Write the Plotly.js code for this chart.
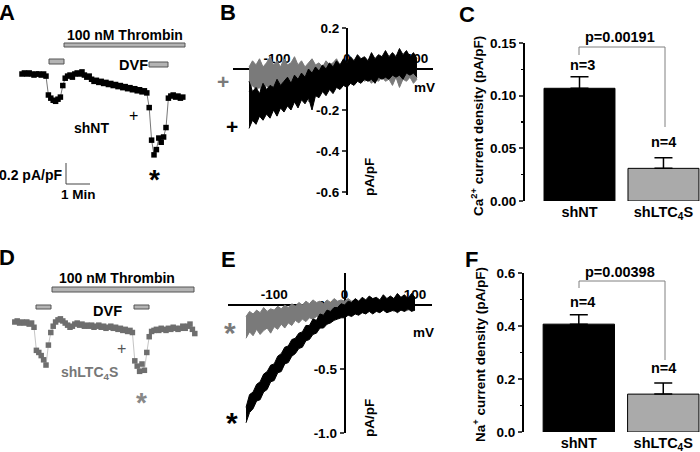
<!DOCTYPE html>
<html>
<head>
<meta charset="utf-8">
<script src="https://cdn.plot.ly/plotly-3.0.1.min.js"></script>
<style>html,body{margin:0;padding:0;background:#fff;}#chart{width:700px;height:452px;}</style>
</head>
<body>
<div id="chart"></div>
<script>
// ---------- DATA ----------
// Panel A: time course shNT (pA/pF relative to start), sampled every 0.1 min
const timeStepMin = 0.1;
const shNT_timecourse = [0,0.01,0,0.01,0,-0.01,0,0,-0.01,0,-0.02,
  -0.20,-0.23,-0.25,-0.26,-0.24,-0.22,-0.11,-0.04,-0.02,-0.01,-0.03,0,0.01,0,0.02,-0.01,-0.03,-0.02,
  -0.05,-0.07,-0.06,-0.08,-0.07,-0.09,-0.08,-0.10,-0.09,-0.11,-0.10,-0.12,-0.11,-0.13,-0.12,-0.14,
  -0.13,-0.15,-0.14,-0.16,-0.15,-0.17,-0.16,-0.18,-0.32,-0.63,-0.77,-0.72,-0.61,-0.65,-0.60,-0.51,
  -0.23,-0.21,-0.20,-0.22,-0.21,-0.23,-0.22];
// Panel D: time course shLTC4S
const shLTC4S_timecourse = [0,0.01,-0.01,0,-0.01,0,-0.02,-0.01,-0.05,
  -0.27,-0.29,-0.32,-0.36,-0.41,-0.22,-0.10,-0.04,0,0.02,0.03,0.01,-0.01,-0.03,-0.05,-0.04,-0.02,
  -0.01,-0.03,-0.02,-0.04,-0.03,-0.04,-0.03,-0.05,-0.04,-0.03,-0.05,-0.04,-0.06,-0.05,-0.04,-0.06,
  -0.05,-0.07,-0.06,-0.08,-0.07,-0.09,-0.08,-0.10,-0.37,-0.42,-0.47,-0.40,-0.46,-0.29,-0.14,-0.09,
  -0.08,-0.07,-0.08,-0.06,-0.07,-0.08,-0.06,-0.07,-0.05,-0.06,-0.07,-0.06,-0.04,-0.06,-0.04,-0.02,
  -0.07,-0.11];

// Panels B & E: I-V ramp envelopes (mV, pA/pF), every 5 mV
const rampVoltage = [-140,-135,-130,-125,-120,-115,-110,-105,-100,-95,-90,-85,-80,-75,-70,-65,-60,-55,-50,-45,-40,-35,-30,-25,-20,-15,-10,-5,0,5,10,15,20,25,30,35,40,45,50,55,60,65,70,75,80,85,90,95,100];
const B_shNT_upper = [-0.06,-0.11,-0.09,-0.12,-0.07,-0.10,-0.08,-0.09,-0.05,-0.08,-0.06,-0.04,-0.07,-0.03,-0.05,-0.02,-0.04,0.00,-0.02,0.01,-0.01,0.02,0.00,0.03,0.01,0.04,0.02,0.05,0.03,0.06,0.04,0.07,0.05,0.06,0.04,0.08,0.05,0.07,0.06,0.09,0.06,0.08,0.06,0.10,0.07,0.09,0.06,0.08,0.05];
const B_shNT_lower = [-0.29,-0.25,-0.27,-0.23,-0.25,-0.22,-0.24,-0.20,-0.23,-0.19,-0.21,-0.18,-0.20,-0.16,-0.19,-0.15,-0.17,-0.14,-0.20,-0.13,-0.14,-0.11,-0.13,-0.10,-0.12,-0.09,-0.10,-0.08,-0.09,-0.07,-0.08,-0.06,-0.07,-0.05,-0.06,-0.05,-0.07,-0.04,-0.05,-0.04,-0.05,-0.03,-0.04,-0.03,-0.05,-0.02,-0.03,-0.02,-0.04];
const B_shLTC4S_upper = [0.01,0.04,0.02,0.05,0.01,0.03,0.06,0.02,0.04,0.01,0.05,0.02,0.03,0.06,0.02,0.04,0.01,0.03,0.05,0.02,0.03,0.01,0.04,0.02,0.03,0.05,0.02,0.04,0.03,0.05,0.02,0.04,0.03,0.05,0.02,0.04,0.03,0.05,0.02,0.04,0.03,0.05,0.03,0.04,0.02,0.05,0.03,0.04,0.03];
const B_shLTC4S_lower = [-0.11,-0.08,-0.10,-0.09,-0.12,-0.08,-0.10,-0.09,-0.11,-0.08,-0.10,-0.09,-0.12,-0.08,-0.10,-0.14,-0.09,-0.16,-0.09,-0.11,-0.08,-0.10,-0.07,-0.09,-0.07,-0.08,-0.06,-0.07,-0.05,-0.07,-0.05,-0.06,-0.04,-0.06,-0.05,-0.07,-0.05,-0.06,-0.04,-0.06,-0.05,-0.08,-0.04,-0.09,-0.05,-0.06,-0.04,-0.07,-0.05];
const E_shNT_upper = [-0.80,-0.70,-0.68,-0.62,-0.60,-0.54,-0.52,-0.47,-0.46,-0.40,-0.38,-0.33,-0.32,-0.27,-0.26,-0.22,-0.21,-0.16,-0.16,-0.11,-0.12,-0.07,-0.08,-0.04,-0.05,-0.02,-0.02,0.01,0.00,0.03,0.02,0.05,0.03,0.06,0.04,0.07,0.05,0.06,0.04,0.08,0.05,0.07,0.05,0.09,0.06,0.08,0.05,0.09,0.06];
const E_shNT_lower = [-0.92,-0.84,-0.81,-0.75,-0.74,-0.68,-0.66,-0.60,-0.59,-0.53,-0.52,-0.46,-0.45,-0.40,-0.38,-0.34,-0.33,-0.28,-0.27,-0.23,-0.22,-0.18,-0.18,-0.15,-0.14,-0.12,-0.11,-0.10,-0.10,-0.08,-0.09,-0.07,-0.08,-0.06,-0.07,-0.05,-0.07,-0.05,-0.06,-0.04,-0.06,-0.05,-0.04,-0.06,-0.04,-0.05,-0.03,-0.05,-0.04];
const E_shLTC4S_upper = [-0.09,-0.05,-0.07,-0.04,-0.06,-0.02,-0.05,-0.03,-0.04,-0.01,-0.03,0.00,-0.02,0.01,-0.01,0.02,0.00,0.03,0.01,0.04,0.02,0.03,0.01,0.04,0.02,0.05,0.03,0.04,0.03,0.05,0.03,0.04,0.02,0.05,0.03,0.04,0.02,0.05,0.03,0.04,0.03,0.05,0.02,0.04,0.03,0.05,0.03,0.04,0.03];
const E_shLTC4S_lower = [-0.26,-0.21,-0.24,-0.19,-0.23,-0.20,-0.18,-0.22,-0.17,-0.19,-0.15,-0.18,-0.14,-0.16,-0.12,-0.14,-0.11,-0.13,-0.10,-0.11,-0.09,-0.10,-0.08,-0.09,-0.07,-0.08,-0.06,-0.07,-0.06,-0.05,-0.06,-0.04,-0.05,-0.04,-0.06,-0.04,-0.05,-0.03,-0.05,-0.04,-0.06,-0.03,-0.05,-0.04,-0.03,-0.05,-0.04,-0.03,-0.04];

// Panels C & F: bar charts
const groups = ['shNT', 'shLTC<sub>4</sub>S'];
const groupPos = [0, 1];
const ca_mean = [0.107, 0.031];
const ca_sem  = [0.011, 0.010];
const ca_n    = ['n=3', 'n=4'];
const na_mean = [0.407, 0.143];
const na_sem  = [0.035, 0.042];
const na_n    = ['n=4', 'n=4'];
const ca_p = 'p=0.00191';
const na_p = 'p=0.00398';

// ---------- LAYOUT HELPERS ----------
const W = 700, H = 452;
const X = p => p / W;
const Y = p => 1 - p / H;
const FONT = 'Liberation Sans, Arial, sans-serif';
const GRAY = '#7a7a7a';

function ann(px, py, text, size, color, extra) {
  return Object.assign({
    xref: 'paper', yref: 'paper', x: X(px), y: Y(py), text: text,
    showarrow: false, xanchor: 'center', yanchor: 'middle',
    font: {family: FONT, size: size, color: color || '#000', weight: 'bold'}
  }, extra || {});
}
function rect(x0, y0, x1, y1, fill, line) {
  return {type: 'rect', xref: 'paper', yref: 'paper', x0: X(x0), x1: X(x1), y0: Y(y1), y1: Y(y0),
    fillcolor: fill, line: {color: line, width: 1}};
}
function seg(x0, y0, x1, y1, color, w) {
  return {type: 'line', xref: 'paper', yref: 'paper', x0: X(x0), x1: X(x1), y0: Y(y0), y1: Y(y1),
    line: {color: color, width: w}};
}
function bracket(xl, yl, ytop, xr, yr) {
  return {type: 'path', xref: 'paper', yref: 'paper',
    path: `M ${X(xl)} ${Y(yl)} L ${X(xl)} ${Y(ytop)} L ${X(xr)} ${Y(ytop)} L ${X(xr)} ${Y(yr)}`,
    line: {color: '#808080', width: 1}};
}

// ---------- TRACES ----------
const traces = [];
traces.push({x0: 0.5, dx: timeStepMin, y: shNT_timecourse, xaxis: 'x', yaxis: 'y', type: 'scatter',
  mode: 'lines+markers', marker: {symbol: 'square', size: 5.5, color: '#000'}, line: {color: '#777', width: 1}});
traces.push({x0: 0.2, dx: timeStepMin, y: shLTC4S_timecourse, xaxis: 'x4', yaxis: 'y4', type: 'scatter',
  mode: 'lines+markers', marker: {symbol: 'square', size: 5.5, color: '#6e6e6e'}, line: {color: '#c4c4c4', width: 1}});

function band(lower, upper, color, xa, ya) {
  traces.push({x: rampVoltage, y: lower, xaxis: xa, yaxis: ya, type: 'scatter', mode: 'lines',
    line: {color: color, width: 1}});
  traces.push({x: rampVoltage, y: upper, xaxis: xa, yaxis: ya, type: 'scatter', mode: 'lines',
    line: {color: color, width: 1}, fill: 'tonexty', fillcolor: color});
}
band(B_shLTC4S_lower, B_shLTC4S_upper, GRAY, 'x2', 'y2');
band(B_shNT_lower, B_shNT_upper, '#000', 'x2', 'y2');
band(E_shLTC4S_lower, E_shLTC4S_upper, GRAY, 'x3', 'y3');
band(E_shNT_lower, E_shNT_upper, '#000', 'x3', 'y3');

function bars(mean, sem, xa, ya) {
  traces.push({type: 'bar', x: groupPos, y: mean, xaxis: xa, yaxis: ya, width: 0.845,
    marker: {color: ['#000', '#aaaaaa'], line: {color: '#000', width: 1}},
    error_y: {type: 'data', symmetric: false, array: sem, arrayminus: [0, 0], color: '#000', thickness: 1.5, width: 9}});
}
bars(ca_mean, ca_sem, 'x5', 'y5');
bars(na_mean, na_sem, 'x6', 'y6');

// ---------- AXES ----------
const hidden = {visible: false, fixedrange: true};
const tickF = {family: FONT, size: 13.5, color: '#000', weight: 'bold'};
function ivX(dom, rng, posY) {
  return {domain: [X(dom[0]), X(dom[1])], range: rng, anchor: 'free', position: Y(posY), side: 'top',
    showline: true, linecolor: '#000', linewidth: 2, ticks: '', showgrid: false, zeroline: false,
    tickvals: [-100, 0, 100], ticktext: ['-100', '0', '100'], tickfont: tickF, layer: 'below traces'};
}
function ivY(top, bottom, rng, posX, vals, txt) {
  return {domain: [Y(bottom), Y(top)], range: rng, anchor: 'free', position: X(posX), side: 'left',
    showline: true, linecolor: '#000', linewidth: 2, ticks: 'outside', ticklen: 4, tickwidth: 2,
    showgrid: false, zeroline: false, tickvals: vals, ticktext: txt, tickfont: tickF, layer: 'below traces'};
}
function barX(dom) {
  return {domain: [X(dom[0]), X(dom[1])], range: [-0.649, 1.435], showline: false, ticks: '', showgrid: false,
    zeroline: false, tickvals: groupPos, ticktext: groups, tickfont: {family: FONT, size: 14.5, color: '#000', weight: 'bold'}};
}
function barY(top, bottom, rng, dtick, fmt) {
  return {domain: [Y(bottom), Y(top)], range: rng, showline: true, linecolor: '#000', linewidth: 2,
    ticks: 'outside', ticklen: 4, tickwidth: 2, dtick: dtick, tick0: 0, tickformat: fmt, showgrid: false, zeroline: false,
    tickfont: tickF, minor: {dtick: dtick / 2, ticks: 'outside', ticklen: 2, tickwidth: 1.5, tickcolor: '#000'}};
}

const layout = {
  width: W, height: H, margin: {l: 0, r: 0, t: 0, b: 0}, paper_bgcolor: '#fff', plot_bgcolor: 'rgba(0,0,0,0)',
  showlegend: false, font: {family: FONT},
  xaxis: Object.assign({domain: [X(10), X(200)], range: [0, 190 / 24], anchor: 'y'}, hidden),
  yaxis: Object.assign({domain: [Y(200), Y(60)], range: [-1.2, 0.1333], anchor: 'x'}, hidden),
  xaxis4: Object.assign({domain: [X(10), X(200)], range: [0, 190 / 24], anchor: 'y4'}, hidden),
  yaxis4: Object.assign({domain: [Y(445), Y(305)], range: [-1.1714, 0.1619], anchor: 'x4'}, hidden),
  xaxis2: ivX([233, 433], [-162.9, 122.9], 69),
  yaxis2: ivY(28, 195, [-0.6146, 0.2], 347, [0.2, -0.2, -0.4, -0.6], ['0.2', '-0.2', '-0.4', '-0.6']),
  xaxis3: ivX([228, 432], [-165.6, 124.1], 305),
  yaxis3: ivY(273, 433, [-1.0, 0.25], 344.6, [0, -0.5, -1.0], ['0.0', '-0.5', '-1.0']),
  xaxis5: Object.assign(barX([525, 700]), {anchor: 'y5'}),
  yaxis5: Object.assign(barY(43, 201, [0, 0.15], 0.05, '.2f'), {anchor: 'x5'}),
  xaxis6: Object.assign(barX([524, 700]), {anchor: 'y6'}),
  yaxis6: Object.assign(barY(273, 432, [0, 0.6], 0.2, '.1f'), {anchor: 'x6'}),
  shapes: [
    // Panel A protocol bars
    rect(64, 43, 185, 47, '#b4b4b4', '#555'),
    rect(49, 59, 64, 64, '#b4b4b4', '#555'),
    rect(149, 62, 168, 67, '#b4b4b4', '#555'),
    // scale bar
    seg(66, 163, 66, 184, '#444', 1),
    seg(66, 184, 90, 184, '#444', 1),
    // Panel D protocol bars
    rect(52, 287, 194, 292, '#b4b4b4', '#555'),
    rect(36, 305, 51, 309, '#b4b4b4', '#555'),
    rect(134, 305, 149, 309, '#b4b4b4', '#555'),
    // significance brackets
    bracket(579, 55, 47, 665, 127),
    bracket(579, 288, 281, 665, 360)
  ],
  annotations: [
    ann(7, 12, 'A', 22), ann(228, 12, 'B', 22), ann(467, 15, 'C', 22),
    ann(7, 257, 'D', 22), ann(228, 259, 'E', 22), ann(471, 259, 'F', 22),
    // A
    ann(125, 35, '100 nM Thrombin', 14),
    ann(133, 65, 'DVF', 14.5),
    ann(91, 128, 'shNT', 14),
    ann(133, 116, '+', 16, '#000', {font: {family: FONT, size: 16, color: '#000'}}),
    ann(154, 180, '*', 28),
    ann(31, 175, '0.2 pA/pF', 14),
    ann(78, 195, '1 Min', 13.5),
    // D
    ann(117, 278, '100 nM Thrombin', 14),
    ann(107, 311, 'DVF', 14.5),
    ann(90, 373, 'shLTC<sub>4</sub>S', 14, '#777'),
    ann(121, 348, '+', 16, '#555', {font: {family: FONT, size: 16, color: '#555'}}),
    ann(141, 402, '*', 28, '#888'),
    // B
    ann(223, 82, '+', 21, GRAY),
    ann(232, 127, '+', 21, '#000'),
    ann(425, 88, 'mV', 13.5),
    ann(369, 177, 'pA/pF', 13.5, '#000', {textangle: -90}),
    // E
    ann(230, 332, '*', 30, GRAY),
    ann(232, 422, '*', 30, '#000'),
    ann(423, 332, 'mV', 13.5),
    ann(369, 418, 'pA/pF', 13.5, '#000', {textangle: -90}),
    // C
    ann(477, 126, 'Ca<sup>2+</sup> current density (pA/pF)', 13.5, '#000', {textangle: -90}),
    ann(620, 37, ca_p, 14.5),
    ann(582, 65, ca_n[0], 14.5),
    ann(663, 142, ca_n[1], 14.5),
    // F
    ann(479, 355, 'Na<sup>+</sup> current density (pA/pF)', 13.5, '#000', {textangle: -90}),
    ann(620, 272, na_p, 14.5),
    ann(582, 302, na_n[0], 14.5),
    ann(663, 368, na_n[1], 14.5)
  ]
};

Plotly.newPlot('chart', traces, layout, {staticPlot: true, displayModeBar: false});
</script>
</body>
</html>
